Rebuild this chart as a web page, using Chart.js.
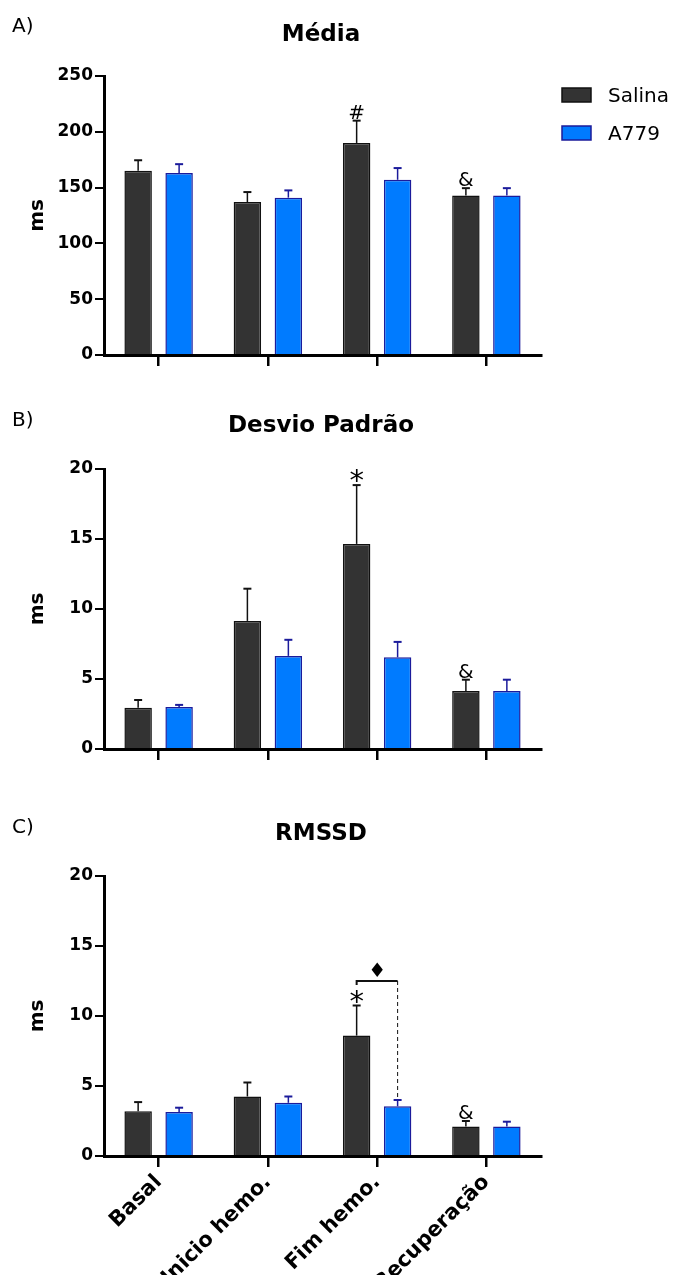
<!DOCTYPE html>
<html lang="pt">
<head>
<meta charset="UTF-8">
<title>Média, Desvio Padrão e RMSSD</title>
<style>
  body { margin: 0; background: #fff; }
  .wrap { position: relative; width: 675px; height: 1275px; overflow: hidden; }
  .wrap canvas { position: absolute; left: 0; }
</style>
</head>
<body>
<div class="wrap">
  <canvas id="chartA" style="top:0px" width="675" height="390"></canvas>
  <canvas id="chartB" style="top:390px" width="675" height="390"></canvas>
  <canvas id="chartC" style="top:780px" width="675" height="495"></canvas>
</div>

<script src="https://cdn.jsdelivr.net/npm/chart.js"></script>
<script>
// grupos e séries
const grupos = ['Basal', 'Inicio hemo.', 'Fim hemo.', 'Recuperação'];
const series = ['Salina', 'A779'];

// A) Média
const mediaSalina = [165, 137, 190, 143];
const mediaSalinaErr = [9.5, 9, 20, 6.5];
const mediaA779 = [163, 141, 157, 143];
const mediaA779Err = [8, 6.5, 10.5, 6.5];
const mediaMarcas = ['', '', '#', '&'];
const mediaTicks = [0, 50, 100, 150, 200, 250];

// B) Desvio padrão
const dpSalina = [2.95, 9.15, 14.65, 4.15];
const dpSalinaErr = [0.55, 2.3, 4.2, 0.8];
const dpA779 = [3.0, 6.65, 6.55, 4.15];
const dpA779Err = [0.15, 1.15, 1.1, 0.8];
const dpMarcas = ['', '', '*', '&'];
const dpTicks = [0, 5, 10, 15, 20];

// C) RMSSD
const rmssdSalina = [3.2, 4.25, 8.6, 2.1];
const rmssdSalinaErr = [0.65, 1.0, 2.15, 0.4];
const rmssdA779 = [3.15, 3.8, 3.55, 2.1];
const rmssdA779Err = [0.3, 0.45, 0.45, 0.35];
const rmssdMarcas = ['', '', '*', '&'];
const rmssdTicks = [0, 5, 10, 15, 20];
const rmssdChave = 12.5;   // altura do colchete Salina x A779 em Fim hemo.

const corSalina = '#333333';
const bordaSalina = '#111111';
const corA779 = '#007bff';
const bordaA779 = '#1b1b9b';
const FONTE = '"DejaVu Sans", sans-serif';

Chart.defaults.font.family = FONTE;
Chart.defaults.color = '#000';

function barrasDeErro(chart, erros) {
    const ctx = chart.ctx;
    const y = chart.scales.y;
    const cores = [bordaSalina, bordaA779];
    erros.forEach((err, d) => {
        const meta = chart.getDatasetMeta(d);
        const vals = chart.data.datasets[d].data;
        ctx.save();
        ctx.strokeStyle = cores[d];
        meta.data.forEach((bar, i) => {
            const topo = y.getPixelForValue(vals[i] + err[i]);
            ctx.lineWidth = 1.5;
            ctx.beginPath();
            ctx.moveTo(bar.x, bar.y);
            ctx.lineTo(bar.x, topo);
            ctx.stroke();
            ctx.lineWidth = 2;
            ctx.beginPath();
            ctx.moveTo(bar.x - 4, topo);
            ctx.lineTo(bar.x + 4, topo);
            ctx.stroke();
        });
        ctx.restore();
    });
}

function marcas(chart, err, lista) {
    const ctx = chart.ctx;
    const y = chart.scales.y;
    const meta = chart.getDatasetMeta(0);
    const vals = chart.data.datasets[0].data;
    const tamanhos = { '#': 20, '&': 20, '*': 29 };
    ctx.save();
    ctx.fillStyle = '#000';
    ctx.textAlign = 'center';
    ctx.textBaseline = 'alphabetic';
    lista.forEach((m, i) => {
        if (!m) return;
        const bar = meta.data[i];
        const topo = y.getPixelForValue(vals[i] + err[i]);
        ctx.font = tamanhos[m] + 'px ' + FONTE;
        const mt = ctx.measureText(m);
        ctx.fillText(m, bar.x, topo - 2 - mt.actualBoundingBoxDescent);
    });
    ctx.restore();
}

function montar(id, cfg) {
    const canvas = document.getElementById(id);
    const decor = {
        id: 'decor',
        afterDatasetsDraw(chart) {
            barrasDeErro(chart, [cfg.errSalina, cfg.errA779]);
            marcas(chart, cfg.errSalina, cfg.marcas);
            if (cfg.extra) cfg.extra(chart);
        },
        afterDraw(chart) {
            const ctx = chart.ctx;
            ctx.save();
            ctx.fillStyle = '#000';
            ctx.textBaseline = 'alphabetic';
            ctx.font = '20px ' + FONTE;
            ctx.textAlign = 'left';
            ctx.fillText(cfg.letra, 12, cfg.letraY);
            ctx.font = 'bold 23px ' + FONTE;
            ctx.textAlign = 'center';
            ctx.fillText(cfg.titulo, 321, cfg.tituloY);
            if (cfg.legenda) {
                const itens = chart.data.datasets;
                ctx.font = '20px ' + FONTE;
                ctx.textAlign = 'left';
                [[88, 102], [126, 140]].forEach(([y0, base], k) => {
                    ctx.fillStyle = itens[k].backgroundColor;
                    ctx.strokeStyle = itens[k].borderColor;
                    ctx.lineWidth = 1.5;
                    ctx.fillRect(562, y0, 29, 14);
                    ctx.strokeRect(562, y0, 29, 14);
                    ctx.fillStyle = '#000';
                    ctx.fillText(itens[k].label, 608, base);
                });
            }
            ctx.restore();
        }
    };

    return new Chart(canvas, {
        type: 'bar',
        data: {
            labels: grupos,
            datasets: [{
                label: series[0],
                data: cfg.salina,
                backgroundColor: corSalina,
                borderColor: bordaSalina,
                borderWidth: 1.5,
                categoryPercentage: 0.75,
                barPercentage: 0.67
            }, {
                label: series[1],
                data: cfg.a779,
                backgroundColor: corA779,
                borderColor: bordaA779,
                borderWidth: 1.5,
                categoryPercentage: 0.75,
                barPercentage: 0.67
            }]
        },
        options: {
            responsive: false,
            animation: false,
            layout: { padding: { top: cfg.topo, right: 134, bottom: 0, left: 0 } },
            plugins: {
                legend: { display: false },
                tooltip: { enabled: false }
            },
            scales: {
                x: {
                    offset: true,
                    afterFit(s) { s.height = canvas.height - cfg.base; },
                    grid: {
                        drawOnChartArea: false,
                        offset: false,
                        tickLength: 11,
                        color: '#000',
                        lineWidth: 2.5
                    },
                    border: { display: true, color: '#000', width: 3 },
                    ticks: {
                        display: cfg.rotulos,
                        autoSkip: false,
                        minRotation: 45,
                        maxRotation: 45,
                        padding: 3,
                        font: { family: FONTE, size: 21, weight: 'bold' },
                        color: '#000'
                    }
                },
                y: {
                    min: cfg.ticks[0],
                    max: cfg.ticks[cfg.ticks.length - 1],
                    afterFit(s) { s.width = 104; },
                    afterBuildTicks(s) { s.ticks = cfg.ticks.map(v => ({ value: v })); },
                    grid: {
                        drawOnChartArea: false,
                        tickLength: 9,
                        color: '#000',
                        lineWidth: 2
                    },
                    border: { display: true, color: '#000', width: 3 },
                    ticks: {
                        padding: 2,
                        font: { family: FONTE, size: 17, weight: 'bold' },
                        color: '#000'
                    },
                    title: {
                        display: true,
                        text: 'ms',
                        padding: { top: 26, bottom: 0 },
                        font: { family: FONTE, size: 20, weight: 'bold' },
                        color: '#000'
                    }
                }
            }
        },
        plugins: [decor]
    });
}

// colchete Salina x A779 em "Fim hemo." no painel C
function colchete(chart) {
    const ctx = chart.ctx;
    const y = chart.scales.y;
    const i = 2;
    const b0 = chart.getDatasetMeta(0).data[i];
    const b1 = chart.getDatasetMeta(1).data[i];
    const yc = y.getPixelForValue(rmssdChave);
    const yFim = y.getPixelForValue(rmssdA779[i] + rmssdA779Err[i]);
    ctx.save();
    ctx.strokeStyle = '#111';
    ctx.lineWidth = 2;
    ctx.beginPath();
    ctx.moveTo(b0.x, yc + 4);
    ctx.lineTo(b0.x, yc);
    ctx.lineTo(b1.x, yc);
    ctx.stroke();
    ctx.lineWidth = 1;
    ctx.setLineDash([4, 3]);
    ctx.beginPath();
    ctx.moveTo(b1.x, yc);
    ctx.lineTo(b1.x, yFim);
    ctx.stroke();
    ctx.setLineDash([]);
    ctx.fillStyle = '#000';
    ctx.font = '20px ' + FONTE;
    ctx.textAlign = 'center';
    ctx.textBaseline = 'alphabetic';
    const mt = ctx.measureText('♦');
    ctx.fillText('♦', (b0.x + b1.x) / 2, yc - 4 - mt.actualBoundingBoxDescent);
    ctx.restore();
}

montar('chartA', {
    letra: 'A)', letraY: 32, titulo: 'Média', tituloY: 41,
    topo: 76, base: 355, legenda: true, rotulos: false,
    salina: mediaSalina, errSalina: mediaSalinaErr,
    a779: mediaA779, errA779: mediaA779Err,
    marcas: mediaMarcas, ticks: mediaTicks
});

montar('chartB', {
    letra: 'B)', letraY: 36, titulo: 'Desvio Padrão', tituloY: 42,
    topo: 79, base: 359, legenda: false, rotulos: false,
    salina: dpSalina, errSalina: dpSalinaErr,
    a779: dpA779, errA779: dpA779Err,
    marcas: dpMarcas, ticks: dpTicks
});

montar('chartC', {
    letra: 'C)', letraY: 53, titulo: 'RMSSD', tituloY: 60,
    topo: 96, base: 376, legenda: false, rotulos: true,
    salina: rmssdSalina, errSalina: rmssdSalinaErr,
    a779: rmssdA779, errA779: rmssdA779Err,
    marcas: rmssdMarcas, ticks: rmssdTicks,
    extra: colchete
});
</script>
</body>
</html>
